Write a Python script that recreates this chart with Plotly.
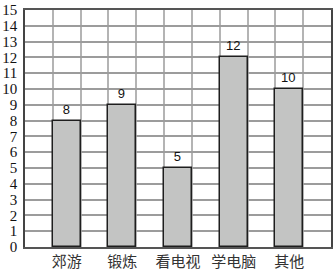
import plotly.graph_objects as go

# Survey: how students spend their weekend
categories = ["郊游", "锻炼", "看电视", "学电脑", "其他"]
counts = [8, 9, 5, 12, 10]

# bars sit in every other grid column: columns 1, 3, 5, 7, 9 of an 11-column grid
n_cols = 2 * len(categories) + 1
centers = [2 * i + 1.5 for i in range(len(categories))]
column_edges = list(range(1, n_cols))

fig = go.Figure(
    go.Bar(
        x=centers,
        y=counts,
        width=1,
        marker=dict(color="#c3c4c3", line=dict(color="#1e1e1e", width=1.5)),
        text=[str(v) for v in counts],
        textposition="outside",
        textfont=dict(family="Liberation Sans", size=13, color="#111"),
        cliponaxis=False,
    )
)

fig.update_layout(
    width=335,
    height=273,
    margin=dict(l=20, r=2, t=7, b=21),
    paper_bgcolor="white",
    plot_bgcolor="white",
    showlegend=False,
    bargap=0,
    uniformtext=dict(minsize=13),
    xaxis=dict(
        range=[0, n_cols],
        tickmode="array",
        tickvals=centers,
        ticktext=categories,
        showgrid=False,
        zeroline=False,
        showline=True,
        linecolor="#555",
        linewidth=1.5,
        mirror=True,
        ticks="",
        ticklabelstandoff=0,
        tickfont=dict(family="Noto Sans CJK SC", size=15, color="#333"),
        minor=dict(
            tickmode="array",
            tickvals=column_edges,
            showgrid=True,
            gridcolor="#b4b4b4",
            gridwidth=1.5,
            ticks="",
        ),
    ),
    yaxis=dict(
        range=[0, 15],
        tickmode="linear",
        tick0=0,
        dtick=1,
        showgrid=True,
        gridcolor="#9c9c9c",
        gridwidth=1.5,
        zeroline=False,
        showline=True,
        linecolor="#444",
        linewidth=1.5,
        mirror=True,
        ticks="",
        ticklabelstandoff=3,
        ticklabeloverflow="allow",
        tickfont=dict(family="Liberation Serif, Times New Roman, serif", size=15, color="#111"),
    ),
)

fig.write_html("out.html")
